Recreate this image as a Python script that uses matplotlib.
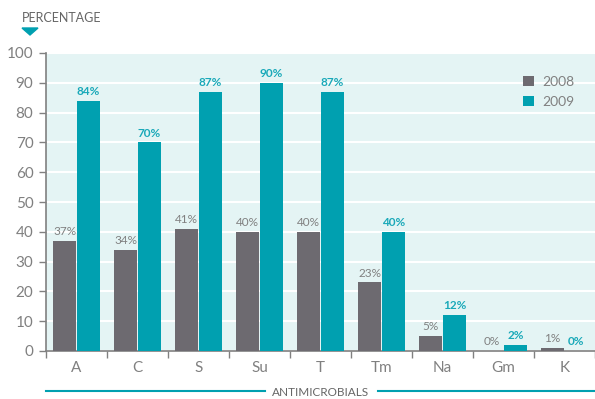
import matplotlib
matplotlib.use("Agg")
import matplotlib.pyplot as plt
import numpy as np
from matplotlib.lines import Line2D
from matplotlib.patches import Polygon

categories = ["A", "C", "S", "Su", "T", "Tm", "Na", "Gm", "K"]
values_2008 = [37, 34, 41, 40, 40, 23, 5, 0, 1]
values_2009 = [84, 70, 87, 90, 87, 40, 12, 2, 0]
series_names = ["2008", "2009"]
yticks = list(range(0, 101, 10))

GRAY = "#6d6a70"
TEAL = "#00a0b0"
TEAL_TEXT = "#1aa9b9"
TEXT = "#808080"
BG = "#e4f4f4"

plt.rcParams["font.family"] = ["Lato", "DejaVu Sans"]

fig = plt.figure(figsize=(5.95, 3.99), dpi=100)
ax = fig.add_axes([46 / 595, 1 - 351 / 399, 549 / 595, (351 - 53) / 399])
ax.set_facecolor(BG)

x = np.arange(len(categories))
w = 0.375
off = 0.196
ax.bar(x - off, values_2008, w, color=GRAY, zorder=3, label=series_names[0])
ax.bar(x + off, values_2009, w, color=TEAL, zorder=3, label=series_names[1])

for xi, v in zip(x, values_2008):
    ax.text(xi - off, v + 1.3, f"{v}%", ha="center", va="bottom",
            fontsize=8.5, color=TEXT, zorder=4)
for xi, v in zip(x, values_2009):
    ax.text(xi + off, v + 1.3, f"{v}%", ha="center", va="bottom",
            fontsize=8.5, color=TEAL_TEXT, fontweight="bold", zorder=4)

ax.set_xlim(-0.5, len(categories) - 0.5)
ax.set_ylim(0, 100)
ax.set_yticks(yticks)
ax.yaxis.grid(True, color="white", linewidth=1.5, zorder=1)
ax.set_axisbelow(True)

ax.set_xticks(np.arange(len(categories) + 1) - 0.5)
ax.set_xticklabels([])
ax.set_xticks(x, minor=True)
ax.set_xticklabels(categories, minor=True)
ax.tick_params(axis="x", which="major", length=5, width=1, color=TEXT, direction="out")
ax.tick_params(axis="x", which="minor", length=0, pad=7, labelsize=11, labelcolor=TEXT)
ax.tick_params(axis="y", length=5, width=1, color=TEXT, labelsize=11, labelcolor=TEXT, pad=4)

for s in ["top", "right"]:
    ax.spines[s].set_visible(False)
for s in ["left", "bottom"]:
    ax.spines[s].set_color(TEXT)
    ax.spines[s].set_linewidth(1.2)

# y-axis caption with marker triangle
fig.text(22 / 595, 1 - 18 / 399, "PERCENTAGE", fontsize=9, color="#666666",
         ha="left", va="center")
tri = Polygon([[22 / 595, 1 - 28 / 399], [38 / 595, 1 - 28 / 399], [30 / 595, 1 - 35 / 399]],
              closed=True, transform=fig.transFigure, color=TEAL)
fig.patches.append(tri)

# x-axis caption flanked by teal rules
fig.text(321 / 595, 1 - 392 / 399, "ANTIMICROBIALS", fontsize=8.5, color="#666666",
         ha="center", va="center")
fig.lines.append(Line2D([46 / 595, 265 / 595], [1 - 391 / 399] * 2,
                        transform=fig.transFigure, color=TEAL, linewidth=1.5))
fig.lines.append(Line2D([378 / 595, 595 / 595], [1 - 391 / 399] * 2,
                        transform=fig.transFigure, color=TEAL, linewidth=1.5))

ax.legend(loc="upper right", bbox_to_anchor=(0.985, 0.965), frameon=False,
          fontsize=10, labelcolor=TEXT, handlelength=0.75, handleheight=0.75,
          handletextpad=0.6, labelspacing=0.55)

fig.savefig("out.png", dpi=100)
